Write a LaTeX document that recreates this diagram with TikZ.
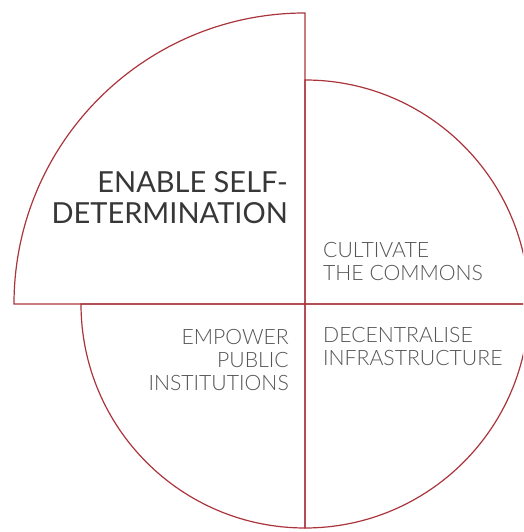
\documentclass[tikz,border=0pt]{standalone}
\usepackage{fontspec}
\setmainfont{Lato}[UprightFont=* Light]
\newfontfamily\headfont{Lato}
\definecolor{petal}{RGB}{170,52,60}
\definecolor{inkdark}{RGB}{55,55,55}
\definecolor{inkgrey}{RGB}{85,85,85}
\begin{document}
\begin{tikzpicture}[x=1pt,y=1pt,
    quarter/.style={draw=petal, line width=1.2pt, line join=miter},
    bigtext/.style={inner sep=0pt, text=inkdark, font=\headfont\fontsize{29}{31}\selectfont},
    smalltext/.style={inner sep=0pt, text=inkgrey, font=\fontsize{21.2}{23}\selectfont}]
  \useasboundingbox (0,0) rectangle (523,532);
  \clip (0,0) rectangle (523,532);
  \coordinate (c) at (305,228);

  % the four quarters
  \draw[quarter] (c) -- ++(0,291) arc[start angle=90, end angle=180, radius=291] -- cycle;
  \draw[quarter] (c) -- ++(224,0) arc[start angle=0, end angle=90, radius=224] -- cycle;
  \draw[quarter] (c) -- ++(-224,0) arc[start angle=180, end angle=270, radius=224] -- cycle;
  \draw[quarter] (c) -- ++(0,-224) arc[start angle=270, end angle=360, radius=224] -- cycle;

  % labels (base = last line)
  \node[bigtext, anchor=base east, align=right] (enable) at (288,308) {ENABLE SELF-\\DETERMINATION};
  \node[smalltext, anchor=base west, align=left] (commons) at (323,251) {CULTIVATE\\THE COMMONS};
  \node[smalltext, anchor=base west, align=left] (infra) at (323,166) {DECENTRALISE\\INFRASTRUCTURE};
  \node[smalltext, anchor=base east, align=right] (public) at (289,141) {EMPOWER\\PUBLIC\\INSTITUTIONS};
\end{tikzpicture}
\end{document}
